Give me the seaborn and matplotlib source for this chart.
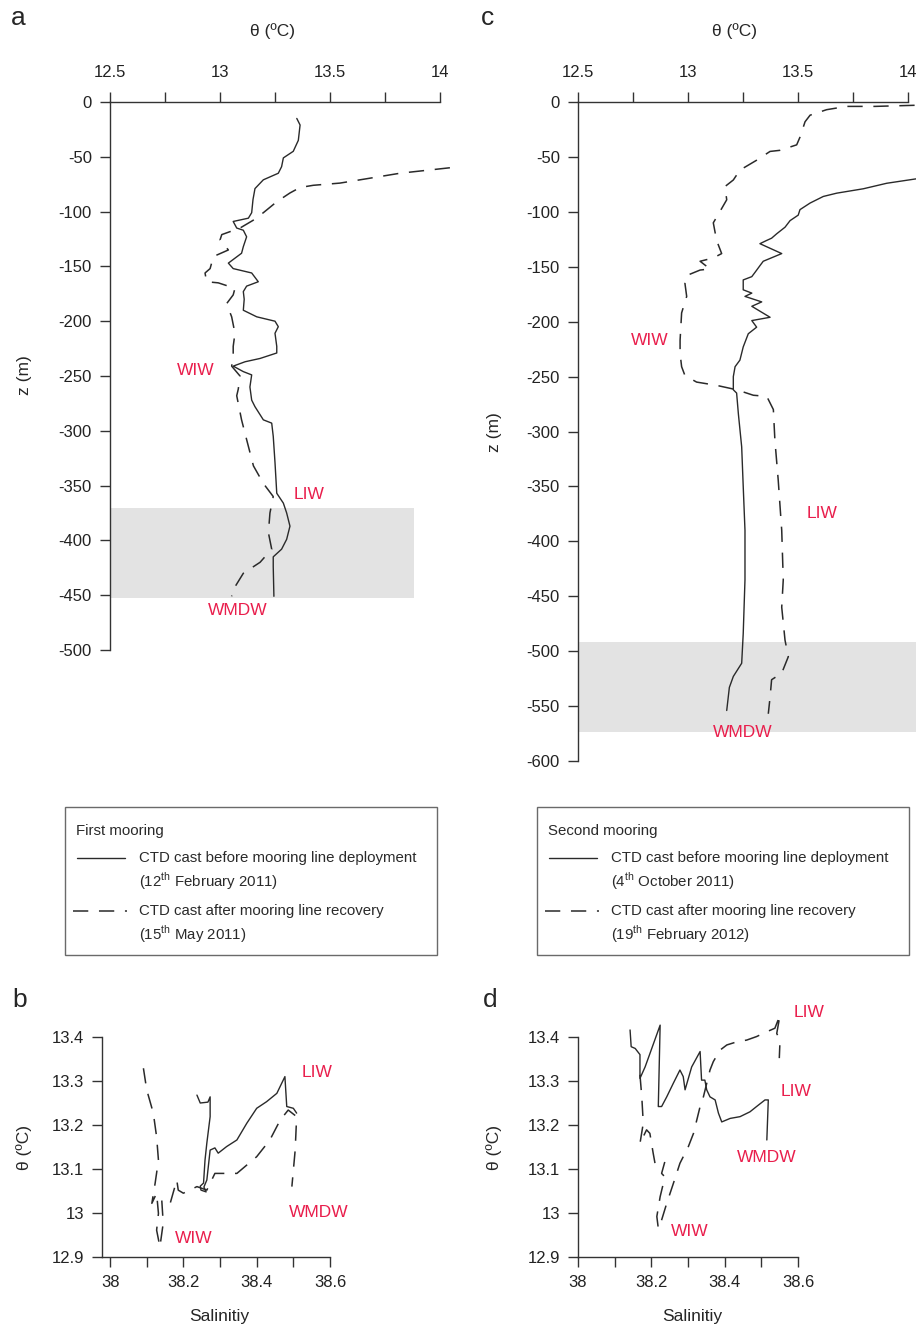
import numpy as np
import matplotlib
matplotlib.use("Agg")
import matplotlib.pyplot as plt
import seaborn as sns
from matplotlib.patches import Rectangle
from matplotlib.ticker import FixedLocator, FuncFormatter

# ---------------------------------------------------------------- data
# (a) first mooring, potential temperature profiles
a_before_theta = [13.349, 13.364, 13.360, 13.356, 13.333, 13.288, 13.280, 13.265, 13.197, 13.159,
                  13.150, 13.144, 13.129, 13.060, 13.076, 13.106, 13.121, 13.106, 13.098, 13.038,
                  13.060, 13.144, 13.174, 13.121, 13.106, 13.110, 13.106, 13.167, 13.250, 13.265,
                  13.250, 13.258, 13.258, 13.182, 13.114, 13.060, 13.106, 13.144, 13.136, 13.144,
                  13.159, 13.197, 13.235, 13.242, 13.250, 13.258, 13.288, 13.303, 13.318, 13.303,
                  13.280, 13.242, 13.242, 13.245]
a_before_z = [-15, -21, -28, -35, -45, -51, -59, -65, -71, -79,
              -89, -101, -106, -109, -115, -117, -123, -132, -138, -147,
              -152, -156, -164, -168, -173, -180, -190, -196, -200, -205,
              -211, -223, -229, -234, -237, -241, -246, -249, -260, -272,
              -278, -290, -293, -305, -329, -357, -366, -375, -387, -399,
              -408, -415, -424, -451]

a_after_theta = [14.045, 13.818, 13.667, 13.545, 13.424, 13.364, 13.318, 13.258, 13.197, 13.150,
                 13.091, 13.008, 13.000, 13.038, 12.970, 12.955, 12.932, 12.939, 12.992, 13.068,
                 13.060, 13.030, 13.053, 13.068, 13.060, 13.060, 13.053, 13.091, 13.083, 13.076,
                 13.098, 13.121, 13.152, 13.197, 13.242, 13.227, 13.220, 13.235, 13.182, 13.106,
                 13.060, 13.053]
a_after_z = [-60, -65, -70, -74, -76, -78, -83, -91, -101, -108,
             -115, -121, -126, -135, -141, -152, -156, -164, -165, -170,
             -176, -184, -196, -211, -223, -232, -241, -250, -262, -268,
             -290, -308, -332, -348, -360, -375, -393, -408, -420, -430,
             -445, -451]

# (c) second mooring, potential temperature profiles
c_before_theta = [14.036, 13.903, 13.797, 13.676, 13.615, 13.555, 13.509, 13.501, 13.464, 13.441,
                  13.403, 13.380, 13.358, 13.327, 13.426, 13.342, 13.327, 13.305, 13.290, 13.251,
                  13.251, 13.290, 13.259, 13.335, 13.290, 13.373, 13.290, 13.312, 13.274, 13.251,
                  13.236, 13.214, 13.206, 13.206, 13.221, 13.229, 13.244, 13.251, 13.259, 13.259,
                  13.251, 13.244, 13.206, 13.188, 13.176]
c_before_z = [-70, -74, -79, -83, -86, -92, -98, -103, -108, -114,
              -120, -124, -126, -129, -138, -145, -149, -155, -159, -162,
              -171, -174, -177, -182, -186, -196, -199, -205, -211, -223,
              -235, -241, -250, -262, -265, -284, -314, -350, -390, -435,
              -484, -511, -523, -533, -554]

c_after_theta = [14.030, 13.850, 13.721, 13.630, 13.555, 13.532, 13.509, 13.494, 13.418, 13.373,
                 13.312, 13.236, 13.206, 13.168, 13.176, 13.153, 13.115, 13.130, 13.153, 13.115,
                 13.055, 13.100, 13.055, 12.994, 12.986, 12.994, 12.971, 12.964, 12.964, 12.971,
                 12.986, 13.039, 13.130, 13.221, 13.297, 13.358, 13.388, 13.395, 13.410, 13.426,
                 13.433, 13.426, 13.441, 13.456, 13.426, 13.380, 13.373, 13.365]
c_after_z = [-3, -4, -4, -7, -12, -18, -32, -39, -44, -45,
             -53, -62, -71, -77, -89, -97, -110, -126, -138, -142,
             -145, -152, -153, -158, -165, -177, -192, -217, -229, -241,
             -249, -255, -258, -262, -267, -268, -280, -308, -344, -390,
             -435, -460, -490, -505, -520, -526, -542, -557]

# (b) first mooring, theta-S diagram
b_before_sal = [38.237, 38.246, 38.267, 38.273, 38.273, 38.264, 38.259, 38.255, 38.246, 38.248,
                38.262, 38.256, 38.264, 38.273, 38.286, 38.295, 38.318, 38.346, 38.373, 38.400,
                38.427, 38.455, 38.477, 38.482, 38.500, 38.509]
b_before_theta = [13.268, 13.250, 13.252, 13.264, 13.219, 13.159, 13.120, 13.068, 13.061, 13.052,
                  13.048, 13.059, 13.075, 13.143, 13.148, 13.136, 13.151, 13.166, 13.204, 13.238,
                  13.253, 13.272, 13.310, 13.242, 13.238, 13.227]

b_after_sal = [38.091, 38.100, 38.118, 38.127, 38.132, 38.123, 38.114, 38.127, 38.132, 38.127,
               38.136, 38.145, 38.141, 38.164, 38.182, 38.186, 38.200, 38.237, 38.264, 38.286,
               38.318, 38.346, 38.400, 38.436, 38.464, 38.486, 38.509, 38.505, 38.496]
b_after_theta = [13.329, 13.280, 13.227, 13.173, 13.120, 13.068, 13.022, 13.045, 12.999, 12.961,
                 12.923, 12.977, 13.030, 13.022, 13.075, 13.052, 13.045, 13.060, 13.052, 13.090,
                 13.090, 13.090, 13.128, 13.166, 13.211, 13.234, 13.219, 13.143, 13.060]

# (d) second mooring, theta-S diagram
d_before_sal = [38.142, 38.145, 38.156, 38.169, 38.169, 38.183, 38.196, 38.224, 38.219, 38.228,
                38.242, 38.260, 38.278, 38.287, 38.292, 38.310, 38.333, 38.337, 38.346, 38.351,
                38.360, 38.374, 38.383, 38.392, 38.415, 38.442, 38.469, 38.487, 38.510, 38.519,
                38.515]
d_before_theta = [13.416, 13.378, 13.374, 13.360, 13.306, 13.332, 13.362, 13.427, 13.242, 13.242,
                  13.264, 13.295, 13.325, 13.310, 13.280, 13.332, 13.367, 13.302, 13.302, 13.280,
                  13.264, 13.257, 13.227, 13.207, 13.215, 13.219, 13.230, 13.242, 13.257, 13.257,
                  13.166]

d_after_sal = [38.169, 38.174, 38.178, 38.169, 38.187, 38.196, 38.205, 38.210, 38.237, 38.228,
               38.237, 38.224, 38.215, 38.219, 38.228, 38.242, 38.260, 38.278, 38.301, 38.315,
               38.333, 38.342, 38.360, 38.369, 38.387, 38.406, 38.433, 38.460, 38.487, 38.515,
               38.537, 38.551, 38.542, 38.551, 38.549]
d_after_theta = [13.314, 13.264, 13.204, 13.158, 13.189, 13.181, 13.136, 13.113, 13.117, 13.090,
                 13.082, 13.037, 12.992, 12.965, 12.984, 13.022, 13.067, 13.113, 13.151, 13.181,
                 13.242, 13.264, 13.325, 13.344, 13.370, 13.382, 13.389, 13.393, 13.401, 13.412,
                 13.420, 13.450, 13.408, 13.393, 13.352]

# mooring depth ranges (shaded) and their theta extent
a_band_z = (-370, -453)
a_band_theta = (12.5, 13.88)
c_band_z = (-492, -574)
c_band_theta = (12.5, 14.04)

# water-mass labels: (text, x, y)
a_labels = [("WIW", 12.891, -245), ("LIW", 13.405, -358), ("WMDW", 13.082, -464)]
c_labels = [("WIW", 12.827, -217), ("LIW", 13.609, -375), ("WMDW", 13.250, -574)]
b_labels = [("LIW", 38.565, 13.320), ("WMDW", 38.570, 13.002), ("WIW", 38.229, 12.941)]
d_labels = [("LIW", 38.630, 13.455), ("LIW", 38.595, 13.277), ("WMDW", 38.515, 13.127),
            ("WIW", 38.305, 12.959)]

theta_ticks = [12.5, 12.75, 13.0, 13.25, 13.5, 13.75, 14.0]
theta_ticklabels = ["12.5", "", "13", "", "13.5", "", "14"]
a_depth_ticks = list(range(-500, 1, 50))
c_depth_ticks = list(range(-600, 1, 50))
sal_ticks = [38.0, 38.1, 38.2, 38.3, 38.4, 38.5, 38.6]
sal_ticklabels = ["38", "", "38.2", "", "38.4", "", "38.6"]
ts_theta_ticks = [12.9, 13.0, 13.1, 13.2, 13.3, 13.4]
ts_theta_ticklabels = ["12.9", "13", "13.1", "13.2", "13.3", "13.4"]

# ---------------------------------------------------------------- style
sns.set_theme(style="ticks")
plt.rcParams["font.family"] = ["Liberation Sans", "DejaVu Sans"]
plt.rcParams["mathtext.fontset"] = "custom"
plt.rcParams["mathtext.rm"] = "Liberation Sans"
plt.rcParams["axes.linewidth"] = 1.0

LINE = "#2a2a2a"
AXIS = "#333333"
RED = "#E91E4C"
BAND = "#e3e3e3"
DASH = (0, (10, 7))
TICK_FS = 12
LABEL_FS = 12.5
NOTE_FS = 12.5
KEY_FS = 10.8

W, H = 916, 1329
fig = plt.figure(figsize=(W / 100, H / 100), dpi=100)
fig.patch.set_facecolor("white")


def box(left, top, right, bottom):
    return [left / W, 1 - bottom / H, (right - left) / W, (bottom - top) / H]


def style_axis(ax):
    ax.set_facecolor("none")
    ax.tick_params(axis="both", direction="out", length=7, width=1.0, color=AXIS,
                   labelsize=TICK_FS, labelcolor="#222222")
    for sp in ax.spines.values():
        sp.set_color(AXIS)
        sp.set_linewidth(1.0)
    ax.set_xlabel("")
    ax.set_ylabel("")


def profile_panel(ax, before, after, zlim, zticks, band_z, band_theta, labels):
    ax.fill_between(band_theta, band_z[0], band_z[1], color=BAND, lw=0, zorder=0,
                    clip_on=False)
    sns.lineplot(x=before[0], y=before[1], sort=False, estimator=None, ax=ax,
                 color=LINE, lw=1.0, clip_on=False, zorder=3)
    sns.lineplot(x=after[0], y=after[1], sort=False, estimator=None, ax=ax,
                 color=LINE, lw=1.1, linestyle=DASH, clip_on=False, zorder=3)
    ax.set_xlim(12.5, 14.0)
    ax.set_ylim(zlim, 0)
    ax.xaxis.tick_top()
    ax.spines["bottom"].set_visible(False)
    ax.spines["right"].set_visible(False)
    ax.xaxis.set_major_locator(FixedLocator(theta_ticks))
    ax.set_xticklabels(theta_ticklabels)
    ax.yaxis.set_major_locator(FixedLocator(zticks))
    ax.set_yticklabels([str(v) for v in zticks])
    style_axis(ax)
    ax.tick_params(axis="x", pad=9)
    ax.tick_params(axis="y", pad=6)
    for text, x, y in labels:
        ax.text(x, y, text, color=RED, fontsize=NOTE_FS, ha="center", va="center",
                zorder=5)


def ts_panel(ax, before, after, xlim, labels):
    sns.lineplot(x=before[0], y=before[1], sort=False, estimator=None, ax=ax,
                 color=LINE, lw=1.0, clip_on=False, zorder=3)
    sns.lineplot(x=after[0], y=after[1], sort=False, estimator=None, ax=ax,
                 color=LINE, lw=1.1, linestyle=DASH, clip_on=False, zorder=3)
    ax.set_xlim(*xlim)
    ax.set_ylim(12.9, 13.4614)
    ax.spines["top"].set_visible(False)
    ax.spines["right"].set_visible(False)
    ax.spines["left"].set_bounds(12.9, 13.4)
    ax.spines["bottom"].set_bounds(xlim[0], 38.6)
    ax.xaxis.set_major_locator(FixedLocator(sal_ticks))
    ax.set_xticklabels(sal_ticklabels)
    ax.yaxis.set_major_locator(FixedLocator(ts_theta_ticks))
    ax.set_yticklabels(ts_theta_ticklabels)
    style_axis(ax)
    ax.tick_params(axis="x", pad=6)
    ax.tick_params(axis="y", pad=6)
    for text, x, y in labels:
        ax.text(x, y, text, color=RED, fontsize=NOTE_FS, ha="center", va="center",
                zorder=5)


# ---------------------------------------------------------------- panels
ax_a = fig.add_axes(box(110, 102, 440, 650))
profile_panel(ax_a, (a_before_theta, a_before_z), (a_after_theta, a_after_z),
              -500, a_depth_ticks, a_band_z, a_band_theta, a_labels)

ax_c = fig.add_axes(box(578, 102, 908, 761))
profile_panel(ax_c, (c_before_theta, c_before_z), (c_after_theta, c_after_z),
              -600, c_depth_ticks, c_band_z, c_band_theta, c_labels)

ax_b = fig.add_axes(box(102, 1010, 330, 1257))
ts_panel(ax_b, (b_before_sal, b_before_theta), (b_after_sal, b_after_theta),
         (37.978, 38.6), b_labels)

ax_d = fig.add_axes(box(578, 1010, 798, 1257))
ts_panel(ax_d, (d_before_sal, d_before_theta), (d_after_sal, d_after_theta),
         (38.0, 38.6), d_labels)


# ---------------------------------------------------------------- texts
def ftext(x, y, s, **kw):
    fig.text(x / W, 1 - y / H, s, **kw)


ftext(18, 18, "a", fontsize=19, ha="center", va="center")
ftext(488, 18, "c", fontsize=19, ha="center", va="center")
ftext(20, 1000, "b", fontsize=19, ha="center", va="center")
ftext(490, 1000, "d", fontsize=19, ha="center", va="center")

ftext(272, 31, "θ (ºC)", fontsize=LABEL_FS, ha="center", va="center")
ftext(735, 31, "θ (ºC)", fontsize=LABEL_FS, ha="center", va="center")
ftext(24, 375, "z (m)", fontsize=LABEL_FS, ha="center", va="center", rotation=90)
ftext(494, 432, "z (m)", fontsize=LABEL_FS, ha="center", va="center", rotation=90)
ftext(24, 1148, "θ (ºC)", fontsize=LABEL_FS, ha="center", va="center", rotation=90)
ftext(494, 1148, "θ (ºC)", fontsize=LABEL_FS, ha="center", va="center", rotation=90)
ftext(219, 1317, "Salinitiy", fontsize=LABEL_FS, ha="center", va="center")
ftext(692, 1317, "Salinitiy", fontsize=LABEL_FS, ha="center", va="center")


# ---------------------------------------------------------------- keys
def draw_key(left, top, title, before_date, after_date):
    kw, kh = 372, 148
    lax = fig.add_axes(box(left, top, left + kw, top + kh))
    lax.set_xlim(0, kw)
    lax.set_ylim(kh, 0)
    lax.axis("off")
    lax.add_patch(Rectangle((0, 0), kw, kh, fill=False, ec="#6a6a6a", lw=1.0,
                            clip_on=False))
    tk = dict(fontsize=KEY_FS, va="center", ha="left", color="#2a2a2a")
    lax.text(11, 24, title, **tk)
    lax.plot([12, 60], [51, 51], color=LINE, lw=1.0)
    lax.text(74, 51, "CTD cast before mooring line deployment", **tk)
    lax.text(74, 74, before_date, **tk)
    lax.plot([8, 62], [104, 104], color=LINE, lw=1.1, linestyle=DASH)
    lax.text(74, 104, "CTD cast after mooring line recovery", **tk)
    lax.text(74, 127, after_date, **tk)


draw_key(65, 807, "First mooring", r"(12$^{\rm th}$ February 2011)", r"(15$^{\rm th}$ May 2011)")
draw_key(537, 807, "Second mooring", r"(4$^{\rm th}$ October 2011)",
         r"(19$^{\rm th}$ February 2012)")

fig.savefig("out.png", dpi=100, facecolor="white")
